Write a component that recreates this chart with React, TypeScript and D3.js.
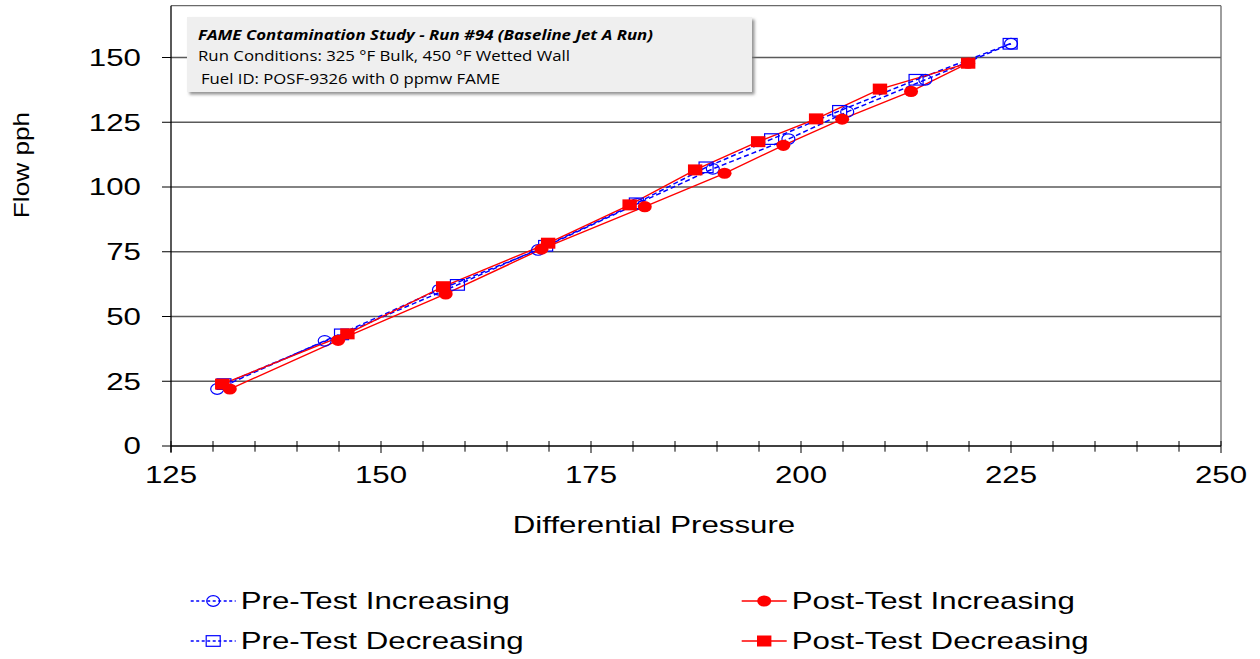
import React from "react";
import * as d3 from "d3";

// ---- data ----
const preIncX = [130.5, 143.3, 156.9, 168.7, 180.5, 189.5, 198.5, 205.5, 214.8, 225.0];
const preIncY = [22.0, 40.6, 60.3, 75.7, 93.5, 107.0, 118.5, 129.0, 141.4, 155.3];

const preDecX = [224.9, 213.7, 204.6, 196.5, 188.7, 180.4, 169.6, 159.1, 145.3, 131.3];
const preDecY = [155.3, 141.4, 129.4, 118.5, 107.6, 93.7, 77.3, 62.2, 43.1, 23.9];

const postIncX = [132.0, 144.9, 157.7, 169.1, 181.4, 190.9, 197.9, 204.9, 213.1, 219.9];
const postIncY = [22.0, 40.8, 58.7, 76.0, 92.4, 105.3, 116.1, 126.2, 136.9, 147.8];

const postDecX = [219.9, 209.4, 201.8, 194.9, 187.4, 179.6, 169.9, 157.4, 146.0, 131.1];
const postDecY = [147.8, 137.8, 126.3, 117.5, 106.6, 93.1, 78.3, 61.5, 43.3, 23.9];

const xMajorTicks = [125, 150, 175, 200, 225, 250];
const yTicks = [0, 25, 50, 75, 100, 125, 150];

const seriesNames = ["Pre-Test Increasing", "Pre-Test Decreasing", "Post-Test Increasing", "Post-Test Decreasing"];

const noteLines = [
  "FAME Contamination Study - Run #94 (Baseline Jet A Run)",
  "Run Conditions: 325 \u00B0F Bulk, 450 \u00B0F Wetted Wall",
  "Fuel ID: POSF-9326 with 0 ppmw FAME",
];

const xTitle = "Differential Pressure";
const yTitle = "Flow pph";

// ---- layout ----
const W = 1260;
const H = 659;
const L = 171, R = 1221, T = 5.7, B = 446;
const FONT = "'Liberation Sans', Arial, sans-serif";
const FS = 23.5;
const SX = 1.33;
const BLUE = "#0000ff";
const RED = "#ff0000";

type Pt = [number, number];

function zip(xs: number[], ys: number[]): Pt[] {
  return xs.map((x, i) => [x, ys[i]] as Pt);
}

function Marker({ kind, x, y }: { kind: string; x: number; y: number }) {
  if (kind === "circleOpen")
    return <ellipse cx={x} cy={y} rx={6.5} ry={5.3} fill="none" stroke={BLUE} strokeWidth={1.2} />;
  if (kind === "squareOpen")
    return <rect x={x - 7} y={y - 5.3} width={14} height={10.6} fill="none" stroke={BLUE} strokeWidth={1.2} />;
  if (kind === "circleFill")
    return <ellipse cx={x} cy={y} rx={7} ry={5.6} fill={RED} />;
  return <rect x={x - 7.2} y={y - 5.5} width={14.4} height={11} fill={RED} />;
}

export default function App() {
  const xs = d3.scaleLinear().domain([125, 250]).range([L, R]);
  const ys = d3.scaleLinear().domain([0, 170]).range([B, T]);
  const line = d3
    .line<Pt>()
    .x((d) => xs(d[0]))
    .y((d) => ys(d[1]));

  const series = [
    { name: seriesNames[0], pts: zip(preIncX, preIncY), color: BLUE, dash: "5,3", marker: "circleOpen" },
    { name: seriesNames[1], pts: zip(preDecX, preDecY), color: BLUE, dash: "5,3", marker: "squareOpen" },
    { name: seriesNames[2], pts: zip(postIncX, postIncY), color: RED, dash: undefined, marker: "circleFill" },
    { name: seriesNames[3], pts: zip(postDecX, postDecY), color: RED, dash: undefined, marker: "squareFill" },
  ];

  const minorTicks = d3.range(125, 250.001, 5);

  const legendPos = [
    { x0: 190.7, y: 601 },
    { x0: 190.7, y: 641 },
    { x0: 741.7, y: 601 },
    { x0: 741.7, y: 641 },
  ];

  return (
    <svg
      width={W}
      height={H}
      style={{ position: "absolute", left: 0, top: 0, background: "#fff" }}
      fontFamily={FONT}
    >
      <defs>
        <filter id="shadow" x="-5%" y="-20%" width="115%" height="150%">
          <feDropShadow dx="2.5" dy="2.5" stdDeviation="1.5" floodColor="#777" floodOpacity="0.8" />
        </filter>
      </defs>
      <rect x={0} y={0} width={W} height={H} fill="#fff" />

      {/* gridlines */}
      {yTicks
        .filter((t) => t > 0)
        .map((t) => (
          <line key={"g" + t} x1={L} x2={R} y1={ys(t)} y2={ys(t)} stroke="#5a5a5a" strokeWidth={1.3} />
        ))}
      {/* frame top/right */}
      <line x1={L} x2={R} y1={T} y2={T} stroke="#6a6a6a" strokeWidth={1.3} />
      <line x1={R} x2={R} y1={T} y2={B} stroke="#6a6a6a" strokeWidth={1.3} />

      {/* axes */}
      <line x1={L} x2={L} y1={T} y2={B + 6} stroke="#000" strokeWidth={1.3} />
      <line x1={L} x2={R} y1={B} y2={B} stroke="#000" strokeWidth={1.3} />
      {minorTicks.map((t) => {
        const major = xMajorTicks.includes(t);
        return (
          <line
            key={"mt" + t}
            x1={xs(t)}
            x2={xs(t)}
            y1={B - 5}
            y2={B + (major ? 7 : 5.7)}
            stroke="#000"
            strokeWidth={1}
          />
        );
      })}
      {yTicks.map((t) => (
        <line key={"yt" + t} x1={L - 9} x2={L} y1={ys(t)} y2={ys(t)} stroke="#000" strokeWidth={1} />
      ))}

      {/* tick labels */}
      {xMajorTicks.map((t) => (
        <text
          key={"xl" + t}
          transform={`translate(${xs(t)},${483}) scale(${SX},1)`}
          textAnchor="middle"
          fontSize={FS}
          fill="#000"
        >
          {t}
        </text>
      ))}
      {yTicks.map((t) => (
        <text
          key={"yl" + t}
          transform={`translate(${141},${ys(t) + 8.4}) scale(${SX},1)`}
          textAnchor="end"
          fontSize={FS}
          fill="#000"
        >
          {t}
        </text>
      ))}

      {/* axis titles */}
      <text transform={`translate(654,533) scale(${SX},1)`} textAnchor="middle" fontSize={FS} fill="#000">
        {xTitle}
      </text>
      <text
        transform={`translate(28.5,165) rotate(-90) scale(1.22,1)`}
        textAnchor="middle"
        fontSize={21.5}
        fill="#000"
      >
        {yTitle}
      </text>

      {/* series lines */}
      {series.map((s) => (
        <path
          key={"p" + s.name}
          d={line(s.pts) || ""}
          fill="none"
          stroke={s.color}
          strokeWidth={s.dash ? 1.5 : 1.4}
          strokeDasharray={s.dash}
        />
      ))}
      {/* markers */}
      {series.map((s) => (
        <g key={"m" + s.name}>
          {s.pts.map((p, i) => (
            <Marker key={i} kind={s.marker} x={xs(p[0])} y={ys(p[1])} />
          ))}
        </g>
      ))}

      {/* annotation box */}
      <rect x={187} y={17} width={565} height={75} fill="#efefef" filter="url(#shadow)" />
      <text
        x={198}
        y={39.5}
        fontFamily="'Open Sans', 'Noto Sans', sans-serif"
        fontStyle="italic"
        fontWeight="bold"
        fontSize={14}
        textLength={455}
        lengthAdjust="spacingAndGlyphs"
        fill="#000"
      >
        {noteLines[0]}
      </text>
      <text
        x={198}
        y={60.5}
        fontFamily="'Open Sans', 'Noto Sans', sans-serif"
        fontSize={14}
        textLength={372}
        lengthAdjust="spacingAndGlyphs"
        fill="#000"
      >
        {noteLines[1]}
      </text>
      <text
        x={201}
        y={83.5}
        fontFamily="'Open Sans', 'Noto Sans', sans-serif"
        fontSize={14}
        textLength={299}
        lengthAdjust="spacingAndGlyphs"
        fill="#000"
      >
        {noteLines[2]}
      </text>

      {/* legend */}
      {series.map((s, i) => {
        const p = legendPos[i];
        const x1 = p.x0;
        const x2 = p.x0 + 45;
        const mx = (x1 + x2) / 2;
        return (
          <g key={"lg" + s.name}>
            <line x1={x1} x2={x2} y1={p.y} y2={p.y} stroke={s.color} strokeWidth={1.4} strokeDasharray={s.dash ? "3,2.5" : undefined} />
            <Marker kind={s.marker} x={mx} y={p.y} />
            <text
              transform={`translate(${x2 + 5},${p.y + 8.4}) scale(${SX},1)`}
              fontSize={FS}
              fill="#000"
            >
              {s.name}
            </text>
          </g>
        );
      })}
    </svg>
  );
}
